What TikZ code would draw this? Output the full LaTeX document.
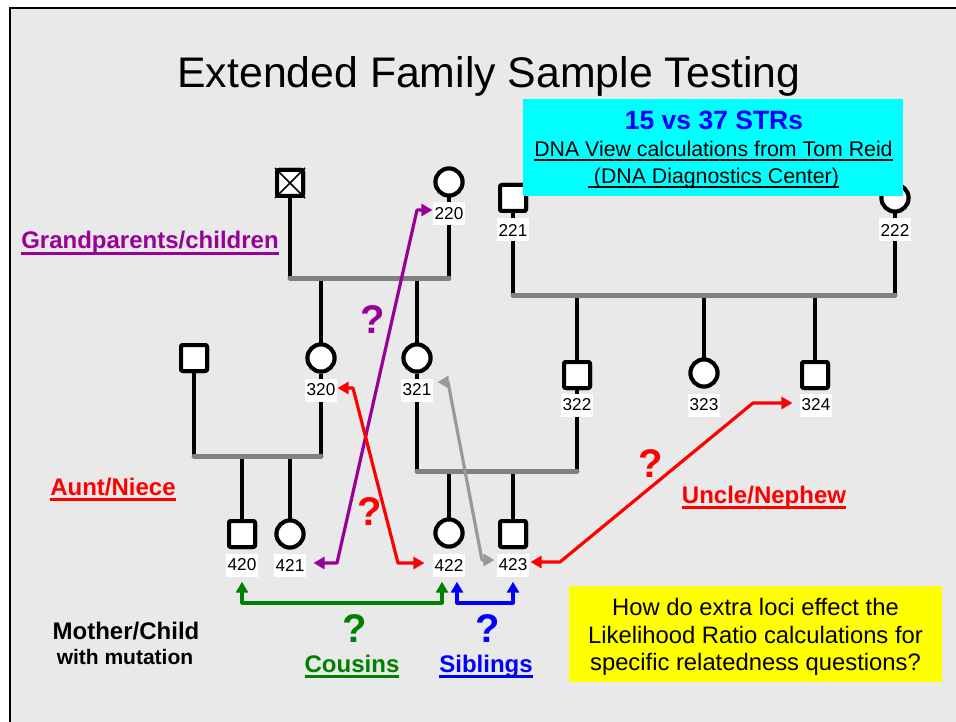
\documentclass[tikz,border=0pt]{standalone}
\usepackage{fontspec}
\setmainfont{Liberation Sans}
\usetikzlibrary{arrows.meta}

\definecolor{pagebg}{HTML}{E9E9E9}
\definecolor{bargray}{HTML}{808080}
\definecolor{arrgray}{HTML}{999999}
\definecolor{relpurple}{HTML}{990099}
\definecolor{relred}{HTML}{FF0000}
\definecolor{relgreen}{HTML}{008000}
\definecolor{relblue}{HTML}{0000FF}
\definecolor{boxcyan}{HTML}{00FFFF}
\definecolor{boxyellow}{HTML}{FFFF00}

\newsavebox\ulbox
% thick underline for the bold relationship captions
\newcommand\ulthick[1]{\sbox\ulbox{#1}\rlap{\rule[-0.24em]{\wd\ulbox}{0.125em}}\usebox\ulbox}
% thin underline for the credit lines
\newcommand\ulthin[1]{\sbox\ulbox{#1}\rlap{\rule[-0.17em]{\wd\ulbox}{0.07em}}\usebox\ulbox}

\begin{document}
\begin{tikzpicture}[x=1pt,y=-1pt,
  male/.style={draw, line width=4pt, rounded corners=2pt, minimum size=26pt, inner sep=0pt, fill=white},
  female/.style={draw, circle, line width=4pt, minimum size=27pt, inner sep=0pt, fill=white},
  idlab/.style={fill=white, inner xsep=2pt, inner ysep=0pt, minimum height=23pt, font=\fontsize{17.2}{17.2}\selectfont},
  pline/.style={line width=4pt},
  sibbar/.style={line width=5pt, draw=bargray, line cap=round},
  reltwo/.style={line width=3.2pt, line join=round, arrows={Triangle[length=11pt,width=12pt]-Triangle[length=11pt,width=12pt]}},
  qmark/.style={font=\bfseries\fontsize{40}{40}\selectfont, anchor=base, inner sep=0pt},
  caption/.style={font=\bfseries\fontsize{24}{24}\selectfont, anchor=base, inner sep=0pt},
  plain/.style={anchor=base, inner sep=0pt}
]
\useasboundingbox (0,0) rectangle (956,722);
\fill[white] (0,0) rectangle (956,722);
\fill[pagebg] (10,8) rectangle (960,730);
\draw[line width=2pt] (10,730) -- (10,8) -- (960,8);

% title
\node[plain, font=\fontsize{42.8}{42.8}\selectfont] (title) at (489,88) {Extended Family Sample Testing};

% ---- individuals (positions) ----
% generation 2
\node[male]   (g1)   at (290,183) {};
\node[female] (g2)   at (449,182) {};
\node[male]   (g3)   at (513,198) {};
\node[female] (g4)   at (895,198) {};
% generation 3
\node[male]   (s1)   at (194,358) {};
\node[female] (c320) at (321,358) {};
\node[female] (c321) at (417,358) {};
\node[male]   (s322) at (577,375) {};
\node[female] (c323) at (704,373) {};
\node[male]   (s324) at (815,375) {};
% generation 4
\node[male]   (s420) at (242,534) {};
\node[female] (c421) at (290,534) {};
\node[female] (c422) at (449,533) {};
\node[male]   (s423) at (513,534) {};

% sibship bar end points
\coordinate (b1) at (290,278);
\coordinate (b2) at (513,295);
\coordinate (b3) at (194,456);
\coordinate (b4) at (417,471);

% ---- pedigree lines ----
\draw[pline] (g1.south) -- (g1 |- b1);
\draw[pline] (g2.south) -- (g2 |- b1);
\draw[pline] (g3.south) -- (g3 |- b2);
\draw[pline] (g4.south) -- (g4 |- b2);
\draw[pline] (c320.north) -- (c320 |- b1);
\draw[pline] (c321.north) -- (c321 |- b1);
\draw[pline] (s322.north) -- (s322 |- b2);
\draw[pline] (c323.north) -- (c323 |- b2);
\draw[pline] (s324.north) -- (s324 |- b2);
\draw[pline] (s1.south) -- (s1 |- b3);
\draw[pline] (c320.south) -- (c320 |- b3);
\draw[pline] (c321.south) -- (c321 |- b4);
\draw[pline] (s322.south) -- (s322 |- b4);
\draw[pline] (s420.north) -- (s420 |- b3);
\draw[pline] (c421.north) -- (c421 |- b3);
\draw[pline] (c422.north) -- (c422 |- b4);
\draw[pline] (s423.north) -- (s423 |- b4);

\draw[sibbar] (b1) -- (g2 |- b1);
\draw[sibbar] (b2) -- (g4 |- b2);
\draw[sibbar] (b3) -- (c320 |- b3);
\draw[sibbar] (b4) -- (s322 |- b4);

% symbols drawn again above the lines
\foreach \n/\s in {g1/male,g2/female,g3/male,g4/female,s1/male,c320/female,c321/female,s322/male,c323/female,s324/male,s420/male,c421/female,c422/female,s423/male}{
  \node[\s] at (\n) {};
}
% deceased marker
\draw[line width=1.5pt] (g1.north west) -- (g1.south east) (g1.north east) -- (g1.south west);

% sample numbers
\node[idlab] (l220) at (449,214) {220};
\node[idlab] (l221) at (513,230) {221};
\node[idlab] (l222) at (895,230) {222};
\node[idlab] (l320) at (321,390) {320};
\node[idlab] (l321) at (417,390) {321};
\node[idlab] (l322) at (577,405) {322};
\node[idlab] (l323) at (704,405) {323};
\node[idlab] (l324) at (816,405) {324};
\node[idlab] (l420) at (242,565) {420};
\node[idlab] (l421) at (290,565) {421};
\node[idlab] (l422) at (449,565) {422};
\node[idlab] (l423) at (513,565) {423};

% ---- relationship connectors ----
\coordinate (pa1) at (337,563);
\coordinate (pa2) at (417,210);
\draw[reltwo, relpurple] ([xshift=7pt,yshift=2pt]l421.east) -- (pa1) -- (pa2) -- ([yshift=4pt]l220.west);

\coordinate (ra1) at (353,388);
\coordinate (ra2) at (398,563);
\draw[reltwo, relred] ([yshift=2pt]l320.east) -- (ra1) -- (ra2) -- ([xshift=-8pt,yshift=2pt]l422.west);

\coordinate (ga1) at (448,382);
\coordinate (ga2) at (482,560);
\draw[reltwo, arrgray] ([xshift=4pt,yshift=8pt]l321.east) -- (ga1) -- (ga2) -- ([xshift=-2pt,yshift=5pt]l423.west);

\coordinate (ru1) at (560,562);
\coordinate (ru2) at (753,403);
\draw[reltwo, relred] ([xshift=1pt,yshift=3pt]l423.east) -- (ru1) -- (ru2) -- ([xshift=-7pt,yshift=2pt]l324.west);

\coordinate (gc1) at (242,603);
\coordinate (gc2) at (442,603);
\draw[reltwo, relgreen] ([yshift=-5pt]l420.south) -- (gc1) -- (gc2) -- ([xshift=-7pt,yshift=-5pt]l422.south);

\coordinate (bs1) at (457,603);
\coordinate (bs2) at (513,603);
\draw[reltwo, relblue] ([xshift=8pt,yshift=-5pt]l422.south) -- (bs1) -- (bs2) -- ([yshift=-5pt]l423.south);

% question marks
\node[qmark, text=relpurple] (q1) at (373,333) {?};
\node[qmark, text=relred]    (q2) at (370,525) {?};
\node[qmark, text=relred]    (q3) at (651,477) {?};
\node[qmark, text=relgreen]  (q4) at (355,642) {?};
\node[qmark, text=relblue]   (q5) at (488,642) {?};

% relationship captions
\node[caption, text=relpurple] (capgp) at (150,249) {\ulthick{Grandparents/children}};
\node[caption, text=relred]    (capan) at (113,495) {\ulthick{Aunt/Niece}};
\node[caption, text=relred]    (capun) at (764,503) {\ulthick{Uncle/Nephew}};
\node[caption, text=relgreen]  (capco) at (352,672) {\ulthick{Cousins}};
\node[caption, text=relblue]   (capsi) at (486,672) {\ulthick{Siblings}};
\node[caption] (capmc) at (126,639) {Mother/Child};
\node[plain, font=\bfseries\fontsize{21}{21}\selectfont] (capmu) at (125,664) {with mutation};

% STR comparison box
\node[fill=boxcyan, minimum width=380pt, minimum height=97pt, inner sep=0pt] (strbox) at (713,147.5) {};
\node[plain, text=relblue, font=\bfseries\fontsize{26.5}{26.5}\selectfont] (str1) at (714,130) {15 vs 37 STRs};
\node[plain, font=\fontsize{21.3}{21.3}\selectfont] (str2) at (713.5,157) {\ulthin{DNA View calculations from Tom Reid}};
\node[plain, font=\fontsize{21.3}{21.3}\selectfont] (str3) at (713.5,184) {\ulthin{\ (DNA Diagnostics Center)}};

% question box
\node[fill=boxyellow, minimum width=373pt, minimum height=96pt, inner sep=0pt] (qbox) at (755.5,634) {};
\node[plain, font=\fontsize{23.8}{23.8}\selectfont] (qt1) at (755.5,615) {How do extra loci effect the};
\node[plain, font=\fontsize{23.8}{23.8}\selectfont] (qt2) at (755.5,643) {Likelihood Ratio calculations for};
\node[plain, font=\fontsize{23.8}{23.8}\selectfont] (qt3) at (755.5,670) {specific relatedness questions?};
\end{tikzpicture}
\end{document}
